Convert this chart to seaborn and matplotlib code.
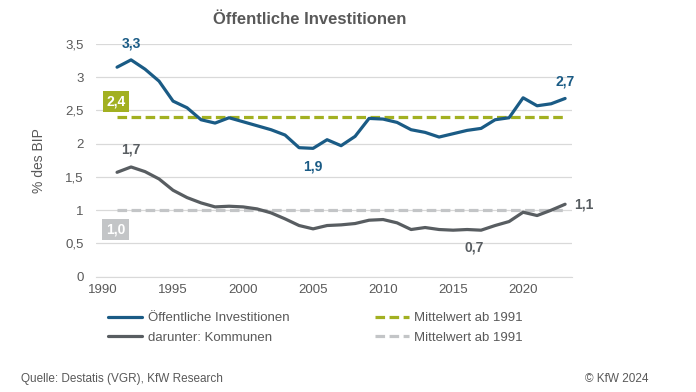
#oeffentliche investitionen in % des BIP
#importing necessary libraries
import numpy as np
import pandas as pd
import matplotlib
matplotlib.use("Agg")
import matplotlib.pyplot as plt
import seaborn as sns
from matplotlib.ticker import FuncFormatter, FixedLocator

#data
years = list(range(1991, 2024))
oeffentlich = [3.15, 3.26, 3.12, 2.94, 2.64, 2.54, 2.36, 2.31, 2.39, 2.33, 2.27, 2.21, 2.13,
               1.94, 1.93, 2.06, 1.97, 2.11, 2.38, 2.37, 2.32, 2.21, 2.17, 2.10, 2.15, 2.20,
               2.23, 2.36, 2.39, 2.69, 2.57, 2.60, 2.68]
kommunen = [1.57, 1.65, 1.58, 1.47, 1.30, 1.19, 1.11, 1.05, 1.06, 1.05, 1.02, 0.96, 0.87,
            0.77, 0.72, 0.77, 0.78, 0.80, 0.85, 0.86, 0.81, 0.71, 0.74, 0.71, 0.70, 0.71,
            0.70, 0.77, 0.83, 0.97, 0.92, 1.00, 1.09]
mittel_oeff = 2.4
mittel_komm = 1.0
x_labels = [1990, 1995, 2000, 2005, 2010, 2015, 2020]
y_ticks = [0, 0.5, 1, 1.5, 2, 2.5, 3, 3.5]

blue = '#1a5b85'
dark = '#585d61'
green = '#a2b021'
light = '#c3c5c7'
txt = '#595959'

df = pd.DataFrame({'Jahr': years, 'oeff': oeffentlich, 'komm': kommunen})

sns.set_style('white')
plt.rcParams['font.family'] = ['Liberation Sans', 'DejaVu Sans']

fig = plt.figure(figsize=(6.96, 3.92), dpi=100)
ax = fig.add_axes([0.138, 0.294, 0.684, 0.594])

sns.lineplot(data=df, x='Jahr', y='oeff', color=blue, lw=2.3, ax=ax,
             label='Öffentliche Investitionen', zorder=4)
sns.lineplot(data=df, x='Jahr', y='komm', color=dark, lw=2.3, ax=ax,
             label='darunter: Kommunen', zorder=4)
ax.plot([years[0], years[-1]], [mittel_oeff, mittel_oeff], color=green, lw=2.3,
        ls=(0, (3, 1.4)), label='Mittelwert ab 1991', zorder=3)
ax.plot([years[0], years[-1]], [mittel_komm, mittel_komm], color=light, lw=2.3,
        ls=(0, (3, 1.4)), label='Mittelwert ab 1991', zorder=3)

ax.set_xlim(1989.5, 2023.5)
ax.set_ylim(0, 3.5)
ax.set_yticks(y_ticks)
ax.yaxis.set_major_formatter(FuncFormatter(lambda v, p: ('%g' % v).replace('.', ',')))
ax.set_xticks(x_labels)
ax.set_xticklabels([str(y) for y in x_labels])
ax.xaxis.set_minor_locator(FixedLocator(np.arange(1989.5, 2024, 1)))
ax.tick_params(axis='x', which='major', length=0, pad=5, labelsize=9.5, labelcolor=txt)
ax.tick_params(axis='x', which='minor', length=3, width=0.8, color='#d9d9d9', direction='out')
ax.tick_params(axis='y', length=0, pad=9, labelsize=9.5, labelcolor=txt)
ax.grid(axis='y', color='#d9d9d9', lw=0.9)
ax.grid(axis='x', visible=False)
for s in ['left', 'right', 'top']:
    ax.spines[s].set_visible(False)
ax.spines['bottom'].set_color('#d9d9d9')
ax.set_xlabel('')
ax.set_ylabel('% des BIP', color=txt, fontsize=10, labelpad=14)

#value labels
bold = dict(fontsize=10, fontweight='bold', ha='center', va='center')
ax.text(1992, 3.5, '3,3', color=blue, **bold)
ax.text(2005, 1.65, '1,9', color=blue, **bold)
ax.text(2023, 2.93, '2,7', color=blue, **bold)
ax.text(1992, 1.91, '1,7', color=dark, **bold)
ax.text(2016.5, 0.44, '0,7', color=dark, **bold)
ax.text(2024.3, 1.09, '1,1', color=dark, clip_on=False, **bold)
ax.text(1990.9, 2.64, '2,4', color='white', bbox=dict(boxstyle='square,pad=0.25', fc=green, ec='none'), **bold)
ax.text(1990.9, 0.71, '1,0', color='white', bbox=dict(boxstyle='square,pad=0.25', fc=light, ec='none'), **bold)

ax.legend(ncol=2, loc='upper left', bbox_to_anchor=(0.0, -0.1), frameon=False,
          fontsize=9.5, labelcolor=txt, handlelength=2.6, handletextpad=0.4,
          columnspacing=6.5, labelspacing=0.55)

fig.suptitle('Öffentliche Investitionen', x=0.445, y=0.97, fontsize=12,
             fontweight='bold', color=txt)
fig.text(0.03, 0.025, 'Quelle: Destatis (VGR), KfW Research', fontsize=8.5, color=txt)
fig.text(0.84, 0.025, '© KfW 2024', fontsize=8.5, color=txt)

fig.savefig('out.png', dpi=100)
